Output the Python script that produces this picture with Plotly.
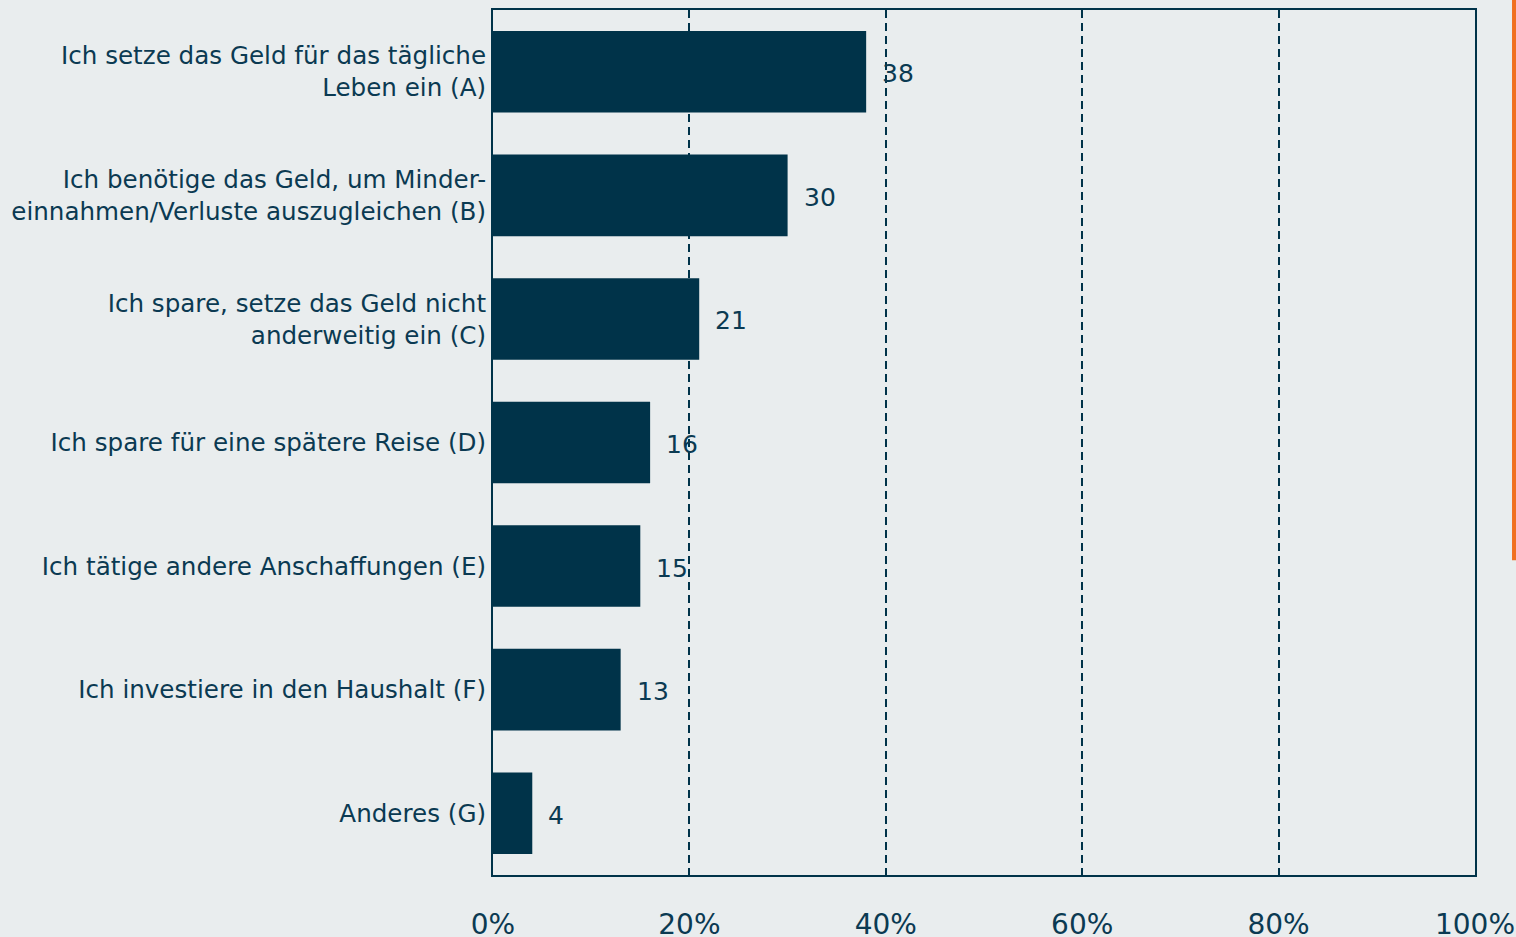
import plotly.graph_objects as go

## Data
labels = [
    "Ich setze das Geld für das tägliche<br>Leben ein (A)",
    "Ich benötige das Geld, um Minder-<br>einnahmen/Verluste auszugleichen (B)",
    "Ich spare, setze das Geld nicht<br>anderweitig ein (C)",
    "Ich spare für eine spätere Reise (D)",
    "Ich tätige andere Anschaffungen (E)",
    "Ich investiere in den Haushalt (F)",
    "Anderes (G)",
]
values = [38, 30, 21, 16, 15, 13, 4]
tick_vals = [0, 20, 40, 60, 80, 100]
tick_text = ["0%", "20%", "40%", "60%", "80%", "100%"]

NAVY = "#003349"
TEXT = "#0B3A52"
BG = "#E9EDEE"
FONT = "DejaVu Sans"

fig = go.Figure()
fig.add_trace(go.Bar(
    x=values,
    y=labels,
    orientation="h",
    marker=dict(color=NAVY, line=dict(width=0)),
    width=0.66,
    hoverinfo="x+y",
))

# value labels next to the bars
for lab, v in zip(labels, values):
    fig.add_annotation(
        x=v, y=lab, text=str(v), showarrow=False,
        xanchor="left", xshift=14, yshift=-2,
        font=dict(family=FONT, size=25, color=TEXT),
    )

# orange strip on the right edge
fig.add_shape(
    type="rect", xref="paper", yref="paper",
    x0=1.0377, x1=1.0418, y0=0.364, y1=1.02,
    fillcolor="#F07021", line=dict(width=0), layer="above",
)

fig.update_layout(
    width=1516, height=937,
    margin=dict(l=493, r=41, t=10, b=62, autoexpand=False),
    paper_bgcolor=BG, plot_bgcolor=BG,
    showlegend=False,
    font=dict(family=FONT, size=24.6, color=TEXT),
)
fig.update_xaxes(
    range=[0, 100],
    tickvals=tick_vals, ticktext=tick_text,
    tickfont=dict(size=28),
    ticks="", ticklabelstandoff=23,
    showgrid=True, gridcolor=NAVY, gridwidth=2, griddash="8px,5px",
    zeroline=False,
    showline=True, linecolor=NAVY, linewidth=2, mirror=True,
    fixedrange=True, automargin=False,
)
fig.update_yaxes(
    autorange="reversed",
    ticks="", ticklabelstandoff=0,
    showline=True, linecolor=NAVY, linewidth=2, mirror=True,
    showgrid=False, zeroline=False,
    fixedrange=True, automargin=False,
)

# page without the default body margin so the figure fills the window
fig.write_html(
    "out.html",
    config={"displayModeBar": False},
    post_script="document.body.style.margin='0';document.body.style.overflow='hidden';"
                "document.body.style.background='" + BG + "';",
)
